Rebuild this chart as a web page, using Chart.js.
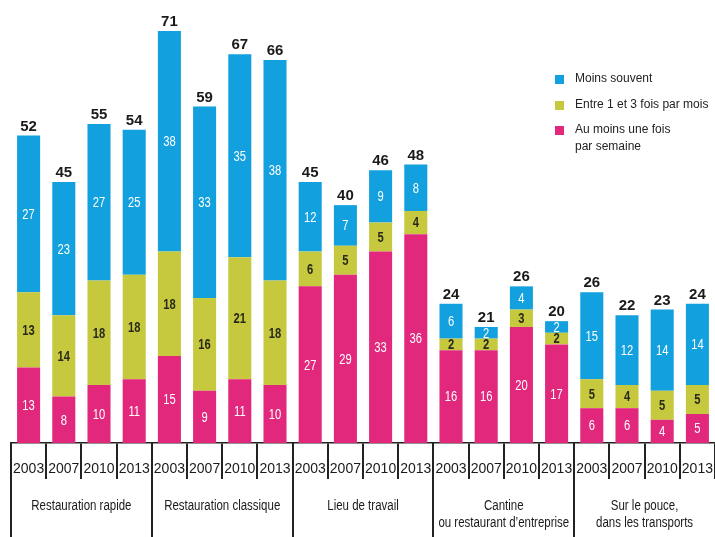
<!DOCTYPE html>
<html><head><meta charset="utf-8">
<script src="https://cdn.jsdelivr.net/npm/chart.js@4.4.0/dist/chart.umd.min.js"></script>
<style>html,body{margin:0;padding:0;background:#fff;} #wrap{width:715px;height:537px;position:relative;}</style>
</head><body><div id="wrap"><canvas id="c" width="715" height="537"></canvas></div>
<script>
const groups = [['Restauration rapide'],['Restauration classique'],['Lieu de travail'],['Cantine','ou restaurant d\u2019entreprise'],['Sur le pouce,','dans les transports']];
const years = ['2003','2007','2010','2013'];
const weekly  = [13,8,10,11, 15,9,11,10, 27,29,33,36, 16,16,20,17, 6,6,4,5];
const monthly = [13,14,18,18, 18,16,21,18, 6,5,5,4, 2,2,3,2, 5,4,5,5];
const rarely  = [27,23,27,25, 38,33,35,38, 12,7,9,8, 6,2,4,2, 15,12,14,14];
const totals  = [52,45,55,54, 71,59,67,66, 45,40,46,48, 24,21,26,20, 26,22,23,24];
const seriesNames = [['Au moins une fois','par semaine'], ['Entre 1 et 3 fois par mois'], ['Moins souvent']];
const colors = ['#e2287c', '#c6c93e', '#12a0de'];

const SANS = '"Liberation Sans", Arial, sans-serif';
const labels = groups.flatMap(() => years);

function drawScaled(ctx, text, x, y, sx) {
  ctx.save();
  ctx.translate(x, y);
  ctx.scale(sx, 1);
  ctx.fillText(text, 0, 0);
  ctx.restore();
}

const overlay = {
  id: 'overlay',
  afterDatasetsDraw(chart) {
    const ctx = chart.ctx;
    ctx.save();
    // segment labels
    chart.data.datasets.forEach((ds, di) => {
      const meta = chart.getDatasetMeta(di);
      meta.data.forEach((el, i) => {
        const cy = (el.y + el.base) / 2;
        ctx.font = (di === 1 ? 'bold ' : '') + '14px ' + SANS;
        ctx.fillStyle = di === 1 ? '#2a2a1a' : '#ffffff';
        ctx.textAlign = 'center';
        ctx.textBaseline = 'middle';
        drawScaled(ctx, String(ds.data[i]), el.x, cy + 1, 0.8);
      });
    });
    // totals
    const top = chart.getDatasetMeta(2);
    ctx.font = 'bold 15px ' + SANS;
    ctx.fillStyle = '#1a1a1a';
    ctx.textAlign = 'center';
    ctx.textBaseline = 'alphabetic';
    top.data.forEach((el, i) => {
      ctx.fillText(String(totals[i]), el.x, el.y - 5);
    });
    // group lines and labels
    const xs = chart.scales.x;
    const step = xs.getPixelForValue(1) - xs.getPixelForValue(0);
    const edge = i => xs.getPixelForValue(i) - step / 2;
    const axisY = chart.chartArea.bottom;
    ctx.strokeStyle = '#222';
    ctx.lineWidth = 2;
    for (let g = 0; g < groups.length; g++) {
      const x = Math.round(edge(g * years.length));
      ctx.beginPath(); ctx.moveTo(x, axisY); ctx.lineTo(x, chart.height); ctx.stroke();
    }
    ctx.font = '14px ' + SANS;
    ctx.fillStyle = '#1a1a1a';
    ctx.textAlign = 'center';
    ctx.textBaseline = 'middle';
    groups.forEach((lines, g) => {
      const cx = (edge(g * years.length) + edge((g + 1) * years.length)) / 2;
      lines.forEach((t, k) => drawScaled(ctx, t, cx, 506 + k * 17, 0.82));
    });
    // legend
    const legY = [79, 105, 130];
    const order = [2, 1, 0];
    ctx.font = '12px ' + SANS;
    ctx.textAlign = 'left';
    order.forEach((di, r) => {
      ctx.fillStyle = colors[di];
      ctx.fillRect(555, legY[r] - 4, 9, 9);
      ctx.fillStyle = '#222';
      seriesNames[di].forEach((t, k) => ctx.fillText(t, 575, legY[r] + k * 17));
    });
    ctx.restore();
  }
};

new Chart(document.getElementById('c'), {
  type: 'bar',
  data: {
    labels: labels,
    datasets: [
      { label: seriesNames[0].join(' '), data: weekly, backgroundColor: colors[0] },
      { label: seriesNames[1].join(' '), data: monthly, backgroundColor: colors[1] },
      { label: seriesNames[2].join(' '), data: rarely, backgroundColor: colors[2] }
    ]
  },
  options: {
    responsive: false, animation: false, devicePixelRatio: 1,
    layout: { padding: { left: 11, right: 0, top: 5, bottom: 0 } },
    datasets: { bar: { categoryPercentage: 1, barPercentage: 0.655, borderWidth: 0 } },
    plugins: { legend: { display: false }, tooltip: { enabled: false } },
    scales: {
      x: {
        stacked: true,
        grid: { offset: true, drawOnChartArea: false, drawTicks: true, tickLength: 36,
                color: c => (c.index >= labels.length ? 'rgba(0,0,0,0)' : '#222'), lineWidth: 2 },
        border: { display: true, color: '#222', width: 1.5 },
        ticks: { padding: -18, font: { family: SANS, size: 14 }, color: '#1a1a1a', maxRotation: 0, autoSkip: false },
        afterFit(s) { s.height = 94; }
      },
      y: { stacked: true, display: false, min: 0, max: 75.5 }
    }
  },
  plugins: [overlay]
});
</script>
</body></html>
